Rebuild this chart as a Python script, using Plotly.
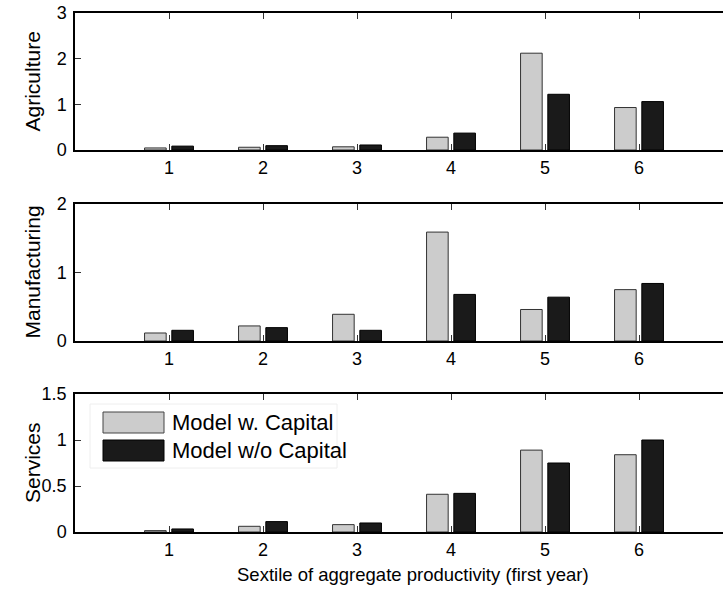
import plotly.graph_objects as go

sextiles = [1, 2, 3, 4, 5, 6]
tick_labels = ["1", "2", "3", "4", "5", "6"]
series_names = ["Model w. Capital", "Model w/o Capital"]
panel_titles = ["Agriculture", "Manufacturing", "Services"]

agri_with = [0.045, 0.06, 0.07, 0.28, 2.12, 0.93]
agri_without = [0.085, 0.095, 0.11, 0.37, 1.22, 1.06]
manu_with = [0.117, 0.22, 0.39, 1.59, 0.46, 0.75]
manu_without = [0.156, 0.195, 0.156, 0.68, 0.64, 0.84]
serv_with = [0.015, 0.062, 0.08, 0.41, 0.89, 0.84]
serv_without = [0.033, 0.113, 0.098, 0.42, 0.75, 1.0]

y_ranges = [[0, 3], [0, 2], [0, 1.5]]
y_ticks = [[0, 1, 2, 3], [0, 1, 2], [0, 0.5, 1, 1.5]]
y_ticktext = [["0", "1", "2", "3"], ["0", "1", "2"], ["0", "0.5", "1", "1.5"]]

W, H = 723, 589
L = 75
panels_px = [(13, 150), (204, 341), (394, 532)]  # top, bottom pixel

FONT = "Liberation Sans, Arial, Helvetica, sans-serif"
GRAY = "#cccccc"
BLACK = "#1a1a1a"

data = [(agri_with, agri_without), (manu_with, manu_without), (serv_with, serv_without)]

fig = go.Figure()
for i, (w, wo) in enumerate(data):
    xa = "x" if i == 0 else f"x{i+1}"
    ya = "y" if i == 0 else f"y{i+1}"
    fig.add_trace(go.Bar(x=sextiles, y=w, name=series_names[0], xaxis=xa, yaxis=ya,
                         width=0.23, offset=-0.26,
                         marker=dict(color=GRAY, line=dict(color="#333333", width=1)),
                         showlegend=False))
    fig.add_trace(go.Bar(x=sextiles, y=wo, name=series_names[1], xaxis=xa, yaxis=ya,
                         width=0.23, offset=0.03,
                         marker=dict(color=BLACK, line=dict(color="#000000", width=1)),
                         showlegend=False))

layout = dict(width=W, height=H, margin=dict(l=L, r=0, t=0, b=0),
              paper_bgcolor="white", plot_bgcolor="white", barmode="overlay",
              font=dict(family=FONT, size=18, color="black"))

plot_w = W - L
x_max = plot_w / 94.0

for i, (top, bot) in enumerate(panels_px):
    sfx = "" if i == 0 else str(i + 1)
    layout["xaxis" + sfx] = dict(domain=[0, 1], range=[0, x_max], anchor="y" + sfx,
                                 tickvals=sextiles, ticktext=tick_labels,
                                 ticks="inside", ticklen=6, tickwidth=1, tickcolor="#333333",
                                 showline=True, linecolor="black", linewidth=1.5, mirror="ticks",
                                 showgrid=False, zeroline=False, automargin=False,
                                 ticklabelstandoff=1,
                                 tickfont=dict(size=18, family=FONT))
    layout["yaxis" + sfx] = dict(domain=[1 - bot / H, 1 - top / H], range=y_ranges[i],
                                 anchor="x" + sfx, tickvals=y_ticks[i], ticktext=y_ticktext[i],
                                 ticks="inside", ticklen=6, tickwidth=1, tickcolor="#333333",
                                 showline=True, linecolor="black", linewidth=1.5, mirror=False,
                                 showgrid=False, zeroline=False, automargin=False,
                                 ticklabelstandoff=3,
                                 tickfont=dict(size=18, family=FONT))

fig.update_layout(**layout)

annotations = []
for i, (top, bot) in enumerate(panels_px):
    sfx = "" if i == 0 else str(i + 1)
    annotations.append(dict(text=panel_titles[i], xref="paper", yref="y" + sfx + " domain",
                            x=(32 - L) / plot_w, y=0.5, xanchor="center", yanchor="middle",
                            textangle=-90, showarrow=False, font=dict(size=21, family=FONT)))

annotations.append(dict(text="Sextile of aggregate productivity (first year)", xref="paper", yref="paper",
                        x=(413 - L) / plot_w, y=1 - 574 / H, xanchor="center", yanchor="middle",
                        showarrow=False, font=dict(size=18.5, family=FONT)))

# legend drawn in panel 3
ptop, pbot = panels_px[2]
ph = pbot - ptop
def dx(px):
    return (px - L) / plot_w
def dy(py):
    return (pbot - py) / ph

shapes = [
    dict(type="rect", xref="x3 domain", yref="y3 domain", x0=dx(90), x1=dx(337), y0=dy(468), y1=dy(404),
         fillcolor="white", line=dict(color="#eeeeee", width=1), layer="above"),
    dict(type="rect", xref="x3 domain", yref="y3 domain", x0=dx(103), x1=dx(164), y0=dy(433), y1=dy(412),
         fillcolor=GRAY, line=dict(color="#444444", width=1), layer="above"),
    dict(type="rect", xref="x3 domain", yref="y3 domain", x0=dx(103), x1=dx(164), y0=dy(461), y1=dy(440),
         fillcolor=BLACK, line=dict(color="#000000", width=1), layer="above"),
]
for name, cy in zip(series_names, [422.5, 450.5]):
    annotations.append(dict(text=name, xref="x3 domain", yref="y3 domain", x=dx(170), y=dy(cy),
                            xanchor="left", yanchor="middle", showarrow=False,
                            font=dict(size=22, family=FONT)))

fig.update_layout(annotations=annotations, shapes=shapes)
fig.write_html("out.html")
